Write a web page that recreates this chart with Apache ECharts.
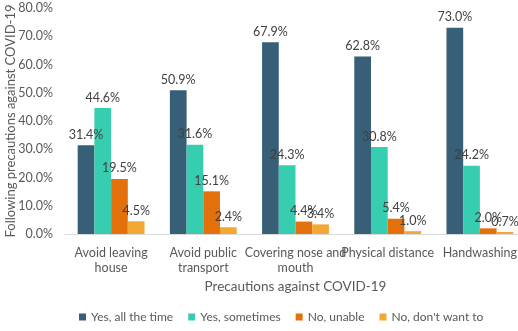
<!DOCTYPE html>
<html>
<head>
<meta charset="UTF-8">
<script src="https://cdn.jsdelivr.net/npm/echarts@6/dist/echarts.min.js"></script>
<style>
html, body { margin: 0; padding: 0; background: #fff; }
#chart { width: 518px; height: 331px; }
</style>
</head>
<body>
<div id="chart"></div>
<script>
const categories = ['Avoid leaving\nhouse', 'Avoid public\ntransport', 'Covering nose and\nmouth', 'Physical distance', 'Handwashing'];
const seriesNames = ['Yes, all the time', 'Yes, sometimes', 'No, unable', "No, don't want to"];
const yesAllTime = [31.4, 50.9, 67.9, 62.8, 73.0];
const yesSometimes = [44.6, 31.6, 24.3, 30.8, 24.2];
const noUnable = [19.5, 15.1, 4.4, 5.4, 2.0];
const noDontWant = [4.5, 2.4, 3.4, 1.0, 0.7];
const colors = ['#375F77', '#37CDB0', '#E3700B', '#F2A832'];

const chart = echarts.init(document.getElementById('chart'));
const font = 'Lato, sans-serif';
function makeSeries(name, data, i) {
return {
name: name,
type: 'bar',
data: data,
barGap: 0,
barCategoryGap: '27.5%',
itemStyle: { color: colors[i] },
label: {
show: true,
position: 'top',
distance: 4,
formatter: p => p.value.toFixed(1) + '%',
color: '#404040',
fontSize: 12.5,
fontFamily: font
}
};
}
chart.setOption({
animation: false,
textStyle: { fontFamily: font },
grid: { left: 65, right: -8, top: 8, bottom: 97, containLabel: false, outerBoundsMode: 'none' },
legend: {
bottom: 3,
left: 74,
itemWidth: 7,
itemHeight: 7,
itemGap: 15,
icon: 'rect',
textStyle: { color: '#595959', fontSize: 12, fontFamily: font },
data: seriesNames
},
xAxis: {
type: 'category',
data: categories,
name: 'Precautions against COVID-19',
nameLocation: 'middle',
nameGap: 46,
nameMoveOverlap: false,
nameTextStyle: { color: '#595959', fontSize: 13.5, fontFamily: font },
axisLine: { lineStyle: { color: '#d9d9d9' } },
axisTick: { show: false },
axisLabel: { color: '#595959', fontSize: 12.5, fontFamily: font, interval: 0, lineHeight: 15, margin: 11 }
},
yAxis: {
type: 'value',
min: 0,
max: 80,
interval: 10,
name: 'Following precautions against COVID-19',
nameLocation: 'middle',
nameGap: 48,
nameMoveOverlap: false,
nameTextStyle: { color: '#595959', fontSize: 13, fontFamily: font },
splitLine: { show: false },
axisLine: { show: false },
axisTick: { show: false },
axisLabel: { color: '#595959', fontSize: 12.5, fontFamily: font, margin: 12, formatter: v => v.toFixed(1) + '%' }
},
series: [
makeSeries(seriesNames[0], yesAllTime, 0),
makeSeries(seriesNames[1], yesSometimes, 1),
makeSeries(seriesNames[2], noUnable, 2),
makeSeries(seriesNames[3], noDontWant, 3)
]
});
</script>
</body>
</html>
